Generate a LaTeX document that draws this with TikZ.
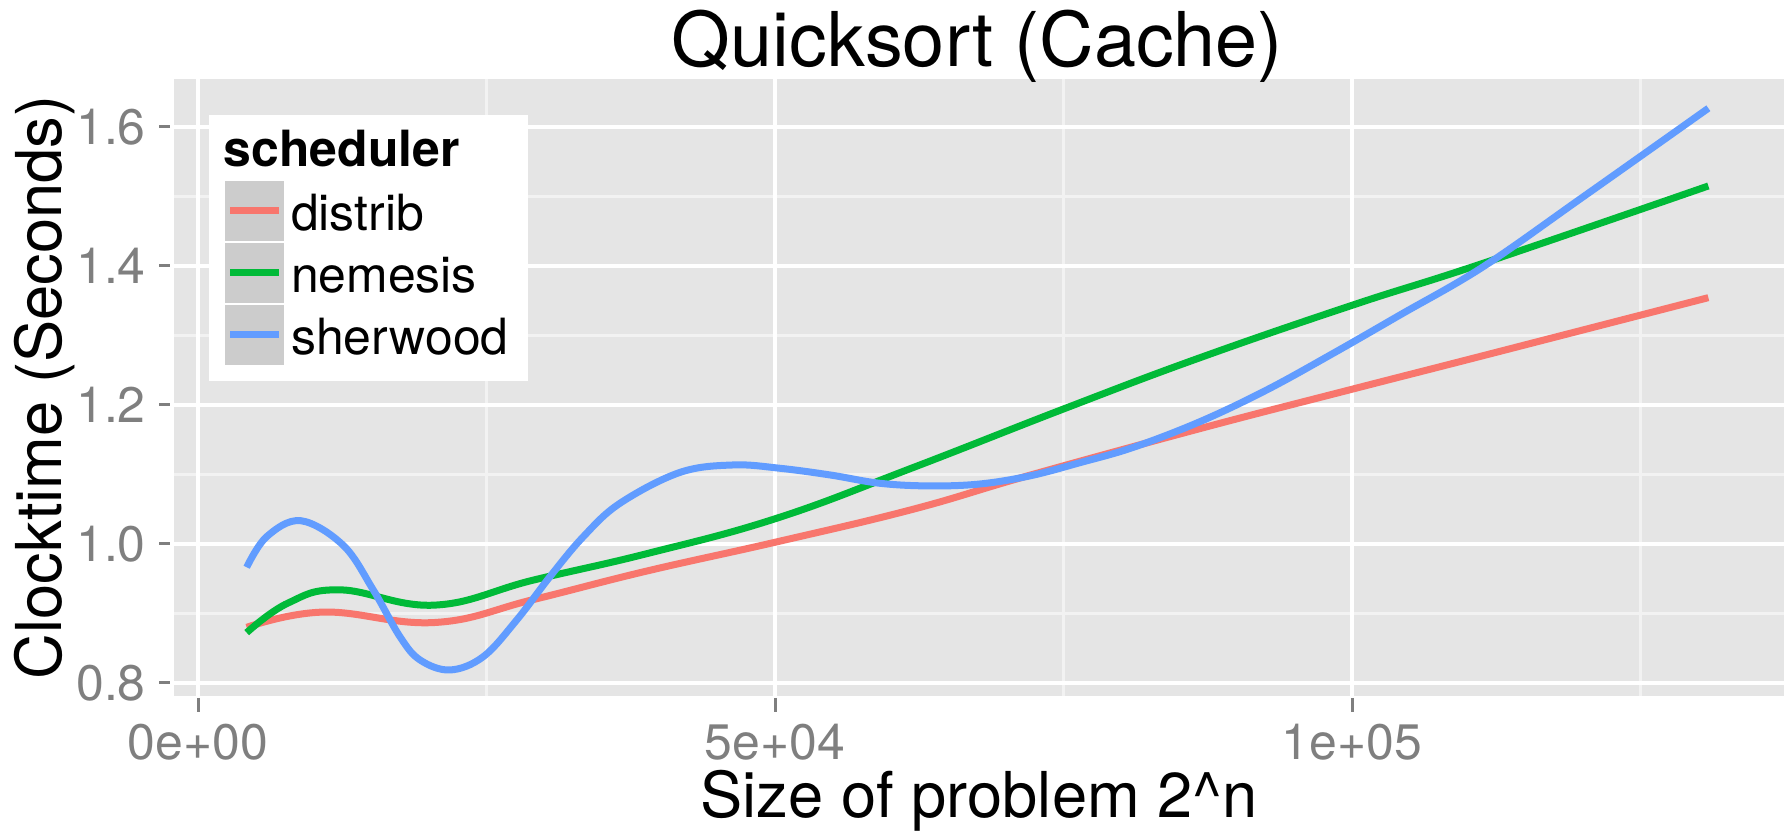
\documentclass[tikz,border=0pt]{standalone}
\usepackage{fontspec}
\setmainfont{TeX Gyre Heros}
\usepackage{xcolor}
\usepackage{tikz}
\usetikzlibrary{positioning}

\definecolor{panelgrey}{HTML}{E5E5E5}
\definecolor{minorgrey}{HTML}{F2F2F2}
\definecolor{keygrey}{HTML}{CCCCCC}
\definecolor{ticktext}{HTML}{7F7F7F}
\definecolor{distribcol}{HTML}{F8766D}
\definecolor{nemesiscol}{HTML}{00BA38}
\definecolor{sherwoodcol}{HTML}{619CFF}

\newcommand{\ticklabelfont}{\fontsize{28.4pt}{34pt}\selectfont}
\newcommand{\legendfont}{\fontsize{28.4pt}{34pt}\selectfont}
\newcommand{\axistitlefont}{\fontsize{36pt}{42pt}\selectfont}
\newcommand{\plottitlefont}{\fontsize{43pt}{50pt}\selectfont}

\begin{document}
\begin{tikzpicture}[x=2.308cm, y=13.9cm,
		majorgrid/.style={white, line width=0.08cm},
		minorgrid/.style={minorgrey, line width=0.05cm},
		axistick/.style={ticktext, line width=0.06cm},
		smoothline/.style={line width=0.14cm, line join=round},
		ticklabel/.style={text=ticktext, font=\ticklabelfont, inner sep=0pt},
		axistitle/.style={font=\axistitlefont, inner sep=0pt},
		keybox/.style={fill=keygrey, draw=white, line width=0.05cm, minimum size=1.24cm, inner sep=0pt},
		keylabel/.style={font=\legendfont, inner sep=0pt, text height=22.7pt, text depth=0pt}]
				\useasboundingbox (-1.7158,0.5842) rectangle (13.7955,1.7827);
				
				% panel and grid
				\fill[panelgrey] (-0.208,0.7813) rectangle (13.744,1.6683);
				\foreach \x in {2.5,7.5,12.5}
					\draw[minorgrid] (\x,0.7813) -- (\x,1.6683);
				\foreach \y in {0.9,1.1,1.3,1.5}
					\draw[minorgrid] (-0.208,\y) -- (13.744,\y);
				\foreach \x in {0,5,10}
					\draw[majorgrid] (\x,0.7813) -- (\x,1.6683);
				\foreach \y in {0.8,1.0,1.2,1.4,1.6}
					\draw[majorgrid] (-0.208,\y) -- (13.744,\y);
				
				% axes
				\foreach \x/\lab in {0/0e+00,5/5e+04,10/1e+05}{
					\draw[axistick] (\x,0.7784) -- (\x,0.7583);
					\node[ticklabel, anchor=base] (xl\x) at (\x,0.6892) {\lab};
				}
				\foreach \y/\lab in {0.8/0.8,1.0/1.0,1.2/1.2,1.4/1.4,1.6/1.6}{
					\draw[axistick] (-0.243,\y) -- (-0.338,\y);
					\node[ticklabel, anchor=east] (yl\lab) at (-0.45,\y) {\lab};
				}
				\node[axistitle, anchor=base] (xtitle) at (6.768,0.6058) {Size of problem 2\textasciicircum n};
				\node[axistitle, rotate=90, anchor=base] (ytitle) at (-1.187,1.2252) {Clocktime (Seconds)};
				\node[font=\plottitlefont, inner sep=0pt, anchor=base] (title) at (6.755,1.6863) {Quicksort (Cache)};
				
				% smoothed curves
				\draw[smoothline, distribcol] plot[smooth, tension=0.7] coordinates {
					(0.422,0.8800) (1.086,0.9020) (2.050,0.8870) (2.906,0.9200) (3.888,0.9610)
					(5.015,1.0030) (6.198,1.0500) (7.210,1.0990) (8.683,1.1660) (10.009,1.2230)
					(11.138,1.2710) (13.088,1.3544)};
				\draw[smoothline, nemesiscol] plot[smooth, tension=0.7] coordinates {
					(0.422,0.8724) (0.780,0.9150) (1.231,0.9340) (2.050,0.9120) (2.906,0.9480)
					(3.888,0.9860) (5.015,1.0370) (6.198,1.1100) (7.528,1.1960) (8.683,1.2680)
					(10.011,1.3440) (11.138,1.4040) (13.088,1.5151)};
				\draw[smoothline, sherwoodcol] plot[smooth, tension=0.6] coordinates {
					(0.422,0.9665) (0.595,1.0105) (0.890,1.0335) (1.259,0.9980) (1.519,0.9338)
					(1.750,0.8666) (1.924,0.8331) (2.184,0.8187) (2.472,0.8378) (2.762,0.8906)
					(3.050,0.9530) (3.339,1.0105) (3.657,1.0586) (4.177,1.1030)
					(4.640,1.1137) (5.043,1.1089) (5.477,1.0993) (5.910,1.0873)
					(6.343,1.0835) (6.776,1.0863) (7.210,1.0980) (7.643,1.1170) (8.105,1.1390)
					(8.683,1.1760) (9.261,1.2216) (9.838,1.2744) (10.416,1.3295) (11.138,1.3990)
					(12.005,1.4997) (13.088,1.6269)};
				
				% legend
				\fill[white] (0.091,1.2338) rectangle (2.862,1.6165);
				\node[font=\legendfont\bfseries, inner sep=0pt, anchor=base west] (legtitle) at (0.221,1.5429) {scheduler};
				\node[keybox] (k1) at (0.4896,1.4791) {};
				\node[keybox] (k2) at (0.4896,1.3899) {};
				\node[keybox] (k3) at (0.4896,1.3007) {};
				\draw[smoothline, distribcol] ([xshift=-0.49cm]k1.center) -- ([xshift=0.49cm]k1.center);
				\draw[smoothline, nemesiscol] ([xshift=-0.49cm]k2.center) -- ([xshift=0.49cm]k2.center);
				\draw[smoothline, sherwoodcol] ([xshift=-0.49cm]k3.center) -- ([xshift=0.49cm]k3.center);
				\node[keylabel, right=0.08cm of k1] (l1) {distrib};
				\node[keylabel, right=0.08cm of k2] (l2) {nemesis};
				\node[keylabel, right=0.08cm of k3] (l3) {sherwood};
			\end{tikzpicture}
\end{document}
